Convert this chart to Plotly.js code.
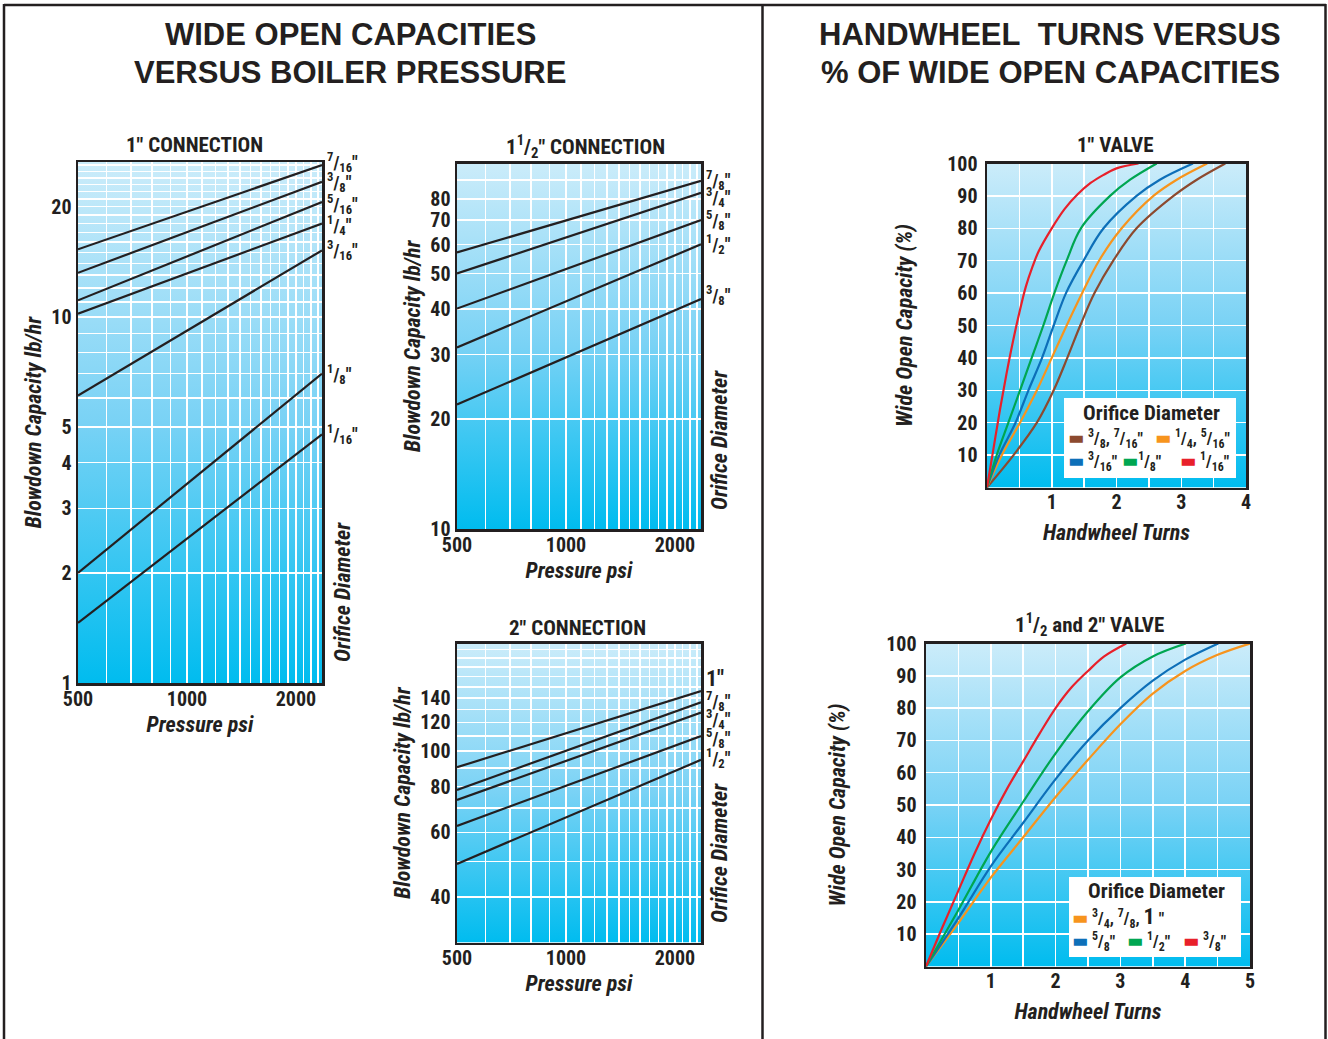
<!DOCTYPE html>
<html>
<head>
<meta charset="utf-8">
<script src="https://cdn.plot.ly/plotly-3.0.1.min.js"></script>
<style>
html,body{margin:0;padding:0;background:#fff;}
svg text{font-stretch:condensed;}
</style>
</head>
<body>
<div id="chart" style="width:1328px;height:1039px;"></div>
<script>
// ---------------- DATA ----------------
// 1" connection: blowdown capacity (lb/hr) at the pressure (psi) ends
const pressure = [500, 2360];
const cap1_7_16 = [15.3, 26.0];
const cap1_3_8  = [13.2, 23.4];
const cap1_5_16 = [11.1, 20.6];
const cap1_1_4  = [10.2, 18.0];
const cap1_3_16 = [6.1, 15.2];
const cap1_1_8  = [2.0, 7.0];
const cap1_1_16 = [1.46, 4.78];
// 1 1/2" connection
const cap15_7_8 = [57.1, 89.6];
const cap15_3_4 = [50.0, 83.1];
const cap15_5_8 = [40.1, 70.0];
const cap15_1_2 = [31.4, 60.1];
const cap15_3_8 = [21.9, 42.6];
// 2" connection
const cap2_1   = [90.4, 146.0];
const cap2_7_8 = [78.4, 136.0];
const cap2_3_4 = [73.6, 127.5];
const cap2_5_8 = [62.5, 110.0];
const cap2_1_2 = [49.2, 94.7];

// 1" valve: handwheel turns vs % of wide open capacity
const v1_turns_1_16 = [0, 0.1, 0.2, 0.3, 0.4, 0.5, 0.6, 0.7, 0.8, 1.0, 1.2, 1.4, 1.6, 1.8, 2.0, 2.34];
const v1_pct_1_16   = [0, 12, 24, 35, 45, 54, 62, 68, 73, 80, 86, 90.5, 94, 96.5, 98.5, 100];
const v1_pct        = [0, 10, 20, 30, 40, 50, 60, 70, 80, 90, 95, 100];
const v1_turns_1_8  = [0, 0.15, 0.33, 0.51, 0.69, 0.87, 1.04, 1.23, 1.45, 1.90, 2.21, 2.62];
const v1_turns_3_16 = [0, 0.19, 0.44, 0.64, 0.85, 1.03, 1.22, 1.49, 1.80, 2.31, 2.67, 3.18];
const v1_turns_1_4  = [0, 0.23, 0.51, 0.77, 1.00, 1.23, 1.47, 1.73, 2.08, 2.57, 2.93, 3.40];
const v1_turns_3_8  = [0, 0.41, 0.77, 1.03, 1.24, 1.44, 1.66, 1.95, 2.31, 2.88, 3.24, 3.68];

// 1 1/2 and 2" valve
const v2_turns_3_8 = [0, 0.25, 0.5, 0.75, 1, 1.25, 1.5, 1.75, 2, 2.25, 2.5, 2.75, 3.09];
const v2_pct_3_8   = [0, 12, 23.5, 35, 45.5, 55, 63.5, 72, 80, 86.5, 91.5, 96, 100];
const v2_turns_1_2 = [0, 0.5, 1, 1.5, 2, 2.5, 3, 3.5, 4.01];
const v2_pct_1_2   = [0, 17.5, 35.5, 51, 66, 79, 89.5, 96, 100];
const v2_turns_5_8 = [0, 0.5, 1, 1.5, 2, 2.5, 3, 3.5, 4, 4.51];
const v2_pct_5_8   = [0, 15, 31, 44.5, 58, 70, 80, 88.5, 95, 100];
const v2_turns_3_4 = [0, 0.5, 1, 1.5, 2, 2.5, 3, 3.5, 4, 4.5, 5];
const v2_pct_3_4   = [0, 13.5, 27.5, 40, 52.5, 64, 75, 84.5, 91.5, 96.5, 100];

// tick labels and grid values
const gridP   = [500,600,700,800,900,1000,1100,1200,1300,1400,1500,1600,1700,1800,1900,2000,2100,2200,2300];
const labelsP = [500,1000,2000];
const gridA   = [1,2,3,4,5,6,7,8,9,10,11,12,13,14,15,16,17,18,19,20,21,22,23,24,25,26];
const labelsA = [1,2,3,4,5,10,20];
const gridB   = [10,20,30,40,50,60,70,80,90,100];
const labelsB = [10,20,30,40,50,60,70,80];
const gridC   = [30,40,50,60,70,80,90,100,110,120,130,140,150,160,170,180,190];
const labelsC = [40,60,80,100,120,140];
const gridTurns4 = [0.5,1,1.5,2,2.5,3,3.5,4];
const gridTurns5 = [0.5,1,1.5,2,2.5,3,3.5,4,4.5,5];
const labelsTurns4 = [1,2,3,4];
const labelsTurns5 = [1,2,3,4,5];
const labelsPct = [10,20,30,40,50,60,70,80,90,100];

// ---------------- STYLE ----------------
const W = 1328, H = 1039;
const INK = '#231f20';
const FC = "'Roboto Condensed','Liberation Sans Narrow','Open Sans Condensed','DejaVu Sans Condensed','Arial Narrow',Roboto,sans-serif";
const FT = "'Liberation Sans',Arial,sans-serif";
const C = {brown:'#8c4a2f', orange:'#f7941d', blue:'#0d6fb8', green:'#00a651', red:'#e8202a'};
const fr = (n, d) => `<sup>${n}</sup>/<sub>${d}</sub>`;
const PX = x => x / W, PY = y => 1 - y / H;
const domX = (a, b) => [a / W, b / W];
const domY = (top, bot) => [1 - bot / H, 1 - top / H];

const boxes = {
  A: {x: domX(78, 322),   y: domY(162, 683)},
  B: {x: domX(457, 701),  y: domY(163.5, 529)},
  C: {x: domX(457, 701),  y: domY(643.5, 942.5)},
  D: {x: domX(987, 1246), y: domY(163.5, 487.5)},
  E: {x: domX(926, 1250), y: domY(643.5, 966.5)}
};

function ticks(grid, labels) {
  return {tickmode:'array', tickvals: labels, ticktext: labels.map(String),
          minor:{tickmode:'array', tickvals: grid, showgrid:true, gridcolor:'#ffffff', gridwidth:1.5, ticks:''}};
}
function axisBase(dom, extra) {
  return Object.assign({
    domain: dom, showline:true, mirror:true, linecolor: INK, linewidth: 2.5,
    showgrid:true, gridcolor:'#ffffff', gridwidth:1.5, zeroline:false,
    ticks:'', fixedrange:true,
    tickfont:{family: FC, size: 20, color: INK, weight: 'bold'}
  }, extra);
}
const titleFont = {family: FC, size: 22, color: INK, weight: 'bold', style: 'italic'};
const logX = (dom, anchor) => axisBase(dom, Object.assign({type:'log', range:[Math.log10(500), Math.log10(2360)], anchor,
  ticklabelstandoff: -4, title:{text:'Pressure psi', font: titleFont, standoff: 7}}, ticks(gridP, labelsP)));
const logY = (dom, anchor, rng, grid, labels) => axisBase(dom, Object.assign({type:'log', range: rng.map(Math.log10), anchor,
  ticklabelstandoff: 0, title:{text:'Blowdown Capacity lb/hr', font: titleFont, standoff: 4}}, ticks(grid, labels)));

const traces = [];
function blk(x, y, xa, ya) {
  traces.push({type:'scatter', mode:'lines', x, y, xaxis:xa, yaxis:ya,
    line:{color: INK, width: 2.2}, showlegend:false, hoverinfo:'skip'});
}
function col(x, y, xa, ya, color) {
  traces.push({type:'scatter', mode:'lines', x, y, xaxis:xa, yaxis:ya,
    line:{color, width: 2.2, shape:'spline', smoothing: 1}, showlegend:false, hoverinfo:'skip'});
}

// [values, label, label y-offset px]
const serA = [[cap1_7_16, fr(7,16)+'″', 3],[cap1_3_8, fr(3,8)+'″', 0],[cap1_5_16, fr(5,16)+'″', -2],
              [cap1_1_4, fr(1,4)+'″', -2],[cap1_3_16, fr(3,16)+'″', 0],[cap1_1_8, fr(1,8)+'″', 0],[cap1_1_16, fr(1,16)+'″', 0]];
const serB = [[cap15_7_8, fr(7,8)+'″', 1],[cap15_3_4, fr(3,4)+'″', -4],[cap15_5_8, fr(5,8)+'″', 0],
              [cap15_1_2, fr(1,2)+'″', 0],[cap15_3_8, fr(3,8)+'″', 4]];
const serC = [[cap2_1, '1″', 13],[cap2_7_8, fr(7,8)+'″', 1],[cap2_3_4, fr(3,4)+'″', -6],
              [cap2_5_8, fr(5,8)+'″', -2],[cap2_1_2, fr(1,2)+'″', 2]];

const annotations = [];
function endLabels(ser, xa, ya) {
  ser.forEach(([vals, txt, ys]) => {
    blk(pressure, vals, xa, ya);
    annotations.push({xref: xa + ' domain', yref: ya, x: 1, y: Math.log10(vals[vals.length - 1]),
      xanchor:'left', yanchor:'middle', xshift: 3, yshift: ys, showarrow:false, text: txt,
      font:{family: FC, size: txt === '1″' ? 22 : 18, color: INK, weight:'bold'}});
  });
}
endLabels(serA, 'x', 'y');
endLabels(serB, 'x2', 'y2');
endLabels(serC, 'x3', 'y3');

col(v1_turns_3_8,  v1_pct, 'x4', 'y4', C.brown);
col(v1_turns_1_4,  v1_pct, 'x4', 'y4', C.orange);
col(v1_turns_3_16, v1_pct, 'x4', 'y4', C.blue);
col(v1_turns_1_8,  v1_pct, 'x4', 'y4', C.green);
col(v1_turns_1_16, v1_pct_1_16, 'x4', 'y4', C.red);

col(v2_turns_3_4, v2_pct_3_4, 'x5', 'y5', C.orange);
col(v2_turns_5_8, v2_pct_5_8, 'x5', 'y5', C.blue);
col(v2_turns_1_2, v2_pct_1_2, 'x5', 'y5', C.green);
col(v2_turns_3_8, v2_pct_3_8, 'x5', 'y5', C.red);

// text annotations (titles, side labels, legends)
function txt(x, y, text, size, opts) {
  annotations.push(Object.assign({xref:'paper', yref:'paper', x: PX(x), y: PY(y), text, showarrow:false,
    xanchor:'center', yanchor:'middle', font:{family: FC, size, color: INK, weight:'bold'}}, opts || {}));
}
const bigFont = {family: FT, size: 31, color: INK, weight: 'bold'};
txt(350, 35, 'WIDE OPEN CAPACITIES', 31, {font: bigFont});
txt(350, 73, 'VERSUS BOILER PRESSURE', 31, {font: bigFont});
txt(1050, 35, 'HANDWHEEL\u00a0 TURNS VERSUS', 31, {font: bigFont});
txt(1050, 73, '% OF WIDE OPEN CAPACITIES', 31, {font: bigFont});

txt(194, 145, '1″ CONNECTION', 21);
txt(585, 146, '1' + fr(1,2) + '″ CONNECTION', 21);
txt(577, 628, '2″ CONNECTION', 21);
txt(1115, 145, '1″ VALVE', 21);
txt(1089, 624, '1' + fr(1,2) + ' and 2″ VALVE', 21);

const sideFont = {family: FC, size: 22, color: INK, weight: 'bold', style: 'italic'};
txt(342, 592, 'Orifice Diameter', 22, {textangle: -90, font: sideFont});
txt(719, 440, 'Orifice Diameter', 22, {textangle: -90, font: sideFont});
txt(719, 853, 'Orifice Diameter', 22, {textangle: -90, font: sideFont});

// legends
const bar = c => `<span style="color:${c};font-size:19px">▬</span>`;
const legFont = {family: FC, size: 17, color: INK, weight: 'bold'};
txt(1151, 413, 'Orifice Diameter', 21);
txt(1066, 438, bar(C.brown) + ' ' + fr(3,8) + ', ' + fr(7,16) + '″', 17, {xanchor:'left', font: legFont});
txt(1153, 438, bar(C.orange) + ' ' + fr(1,4) + ', ' + fr(5,16) + '″', 17, {xanchor:'left', font: legFont});
txt(1066, 462, bar(C.blue) + ' ' + fr(3,16) + '″', 17, {xanchor:'left', font: legFont});
txt(1120, 462, bar(C.green) + fr(1,8) + '″', 17, {xanchor:'left', font: legFont});
txt(1178, 462, bar(C.red) + ' ' + fr(1,16) + '″', 17, {xanchor:'left', font: legFont});

txt(1156, 891, 'Orifice Diameter', 21);
txt(1070, 917, bar(C.orange) + ' ' + fr(3,4) + ', ' + fr(7,8) + ', <span style="font-size:22px">1</span> ″', 17, {xanchor:'left', font: legFont});
txt(1070, 941, bar(C.blue) + ' ' + fr(5,8) + '″', 17, {xanchor:'left', font: legFont});
txt(1125, 941, bar(C.green) + ' ' + fr(1,2) + '″', 17, {xanchor:'left', font: legFont});
txt(1181, 941, bar(C.red) + ' ' + fr(3,8) + '″', 17, {xanchor:'left', font: legFont});

// gradient plot backgrounds
const gradSvg = "<svg xmlns='http://www.w3.org/2000/svg' width='10' height='100' viewBox='0 0 10 100' preserveAspectRatio='none'>" +
  "<defs><linearGradient id='g' x1='0' y1='0' x2='0' y2='1'>" +
  "<stop offset='0' stop-color='#cbecfa'/><stop offset='0.5' stop-color='#79d2f5'/><stop offset='1' stop-color='#00bcef'/>" +
  "</linearGradient></defs><rect width='10' height='100' fill='url(#g)'/></svg>";
const gradSrc = 'data:image/svg+xml;base64,' + btoa(gradSvg);
const images = [['x','y'],['x2','y2'],['x3','y3'],['x4','y4'],['x5','y5']].map(([xa, ya]) => ({
  source: gradSrc, xref: xa + ' domain', yref: ya + ' domain', x: 0, y: 1, sizex: 1, sizey: 1,
  xanchor:'left', yanchor:'top', sizing:'stretch', layer:'below'}));

const frameLine = {type:'line', xref:'paper', yref:'paper', line:{color: INK, width: 2.5}};
const shapes = [
  Object.assign({x0: PX(4), x1: PX(4), y0: PY(4), y1: PY(1039)}, frameLine),
  Object.assign({x0: PX(4), x1: PX(1326), y0: PY(5), y1: PY(5)}, frameLine),
  Object.assign({x0: PX(1325.5), x1: PX(1325.5), y0: PY(4), y1: PY(1039)}, frameLine),
  Object.assign({x0: PX(762.5), x1: PX(762.5), y0: PY(5), y1: PY(1039)}, frameLine),
  {type:'rect', xref:'paper', yref:'paper', x0: PX(1064), x1: PX(1236), y0: PY(398), y1: PY(478),
   fillcolor:'#ffffff', line:{width:0}, layer:'above'},
  {type:'rect', xref:'paper', yref:'paper', x0: PX(1069), x1: PX(1241), y0: PY(877), y1: PY(957),
   fillcolor:'#ffffff', line:{width:0}, layer:'above'}
];

const linX = (dom, anchor, rng, grid, labels) => axisBase(dom, Object.assign({range: rng, anchor, ticklabelstandoff: -5,
  title:{text:'Handwheel Turns', font: titleFont, standoff: 12}}, ticks(grid, labels)));
const linY = (dom, anchor, standoff) => axisBase(dom, Object.assign({range:[0, 100], anchor, ticklabelstandoff: 3,
  title:{text:'Wide Open Capacity (%)', font: titleFont, standoff}}, ticks(labelsPct, labelsPct)));

const layout = {
  width: W, height: H, margin:{l:0, r:0, t:0, b:0},
  paper_bgcolor:'#ffffff', plot_bgcolor:'rgba(0,0,0,0)', showlegend:false,
  font:{family: FC, color: INK},
  xaxis:  logX(boxes.A.x, 'y'),
  yaxis:  logY(boxes.A.y, 'x', [1, 26.5], gridA, labelsA),
  xaxis2: logX(boxes.B.x, 'y2'),
  yaxis2: logY(boxes.B.y, 'x2', [10, 100], gridB, labelsB),
  xaxis3: logX(boxes.C.x, 'y3'),
  yaxis3: logY(boxes.C.y, 'x3', [30, 197], gridC, labelsC),
  xaxis4: linX(boxes.D.x, 'y4', [0, 4], gridTurns4, labelsTurns4),
  yaxis4: linY(boxes.D.y, 'x4', 29),
  xaxis5: linX(boxes.E.x, 'y5', [0, 5], gridTurns5, labelsTurns5),
  yaxis5: linY(boxes.E.y, 'x5', 35),
  annotations, shapes, images
};

Plotly.newPlot('chart', traces, layout, {displayModeBar:false, staticPlot:true});
</script>
</body>
</html>
